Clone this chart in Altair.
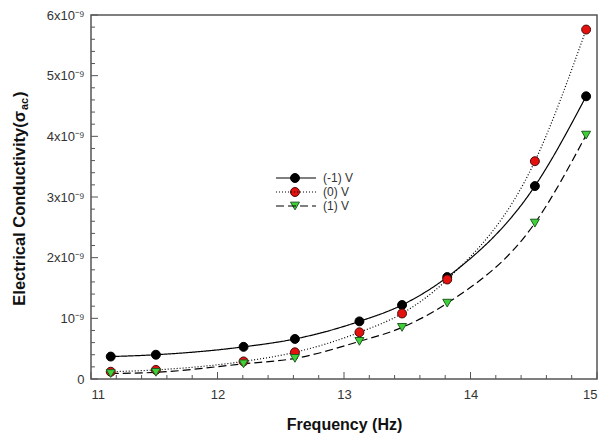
import altair as alt
import pandas as pd

# ---- data (values in units of 1e-9) ----
freq = [11.156, 11.513, 12.206, 12.612, 13.122, 13.459, 13.816, 14.509, 14.914]
s_m1 = [0.37, 0.40, 0.53, 0.66, 0.95, 1.22, 1.68, 3.18, 4.66]
s_0 = [0.12, 0.15, 0.29, 0.44, 0.77, 1.08, 1.64, 3.59, 5.76]
s_p1 = [0.09, 0.11, 0.25, 0.34, 0.62, 0.85, 1.25, 2.57, 4.02]
series_names = ["(-1) V", "(0) V", "(1) V"]
fill_colors = ["#000000", "#e3120f", "#3fd13a"]
stroke_colors = ["#000000", "#4a0a0a", "#1f5a1f"]
shapes = ["circle", "circle", "triangle-down"]
dashes = [[1, 0], [1, 2], [8, 4]]

x_major = [11, 12, 13, 14, 15]
x_minor = [11.2, 11.4, 11.6, 11.8, 12.2, 12.4, 12.6, 12.8, 13.2, 13.4, 13.6, 13.8,
           14.2, 14.4, 14.6, 14.8]
y_major = [0, 1, 2, 3, 4, 5, 6]
y_minor = [0.2, 0.4, 0.6, 0.8, 1.2, 1.4, 1.6, 1.8, 2.2, 2.4, 2.6, 2.8, 3.2, 3.4, 3.6, 3.8,
           4.2, 4.4, 4.6, 4.8, 5.2, 5.4, 5.6, 5.8]
x_title = "Frequency (Hz)"
y_title_main = ["Electrical Conductivity(σ"]
y_title_sub = ["ac"]
y_title_close = [")"]

W, H = 506, 364
FONT = "Liberation Sans"

rows = []
for name, vals in zip(series_names, [s_m1, s_0, s_p1]):
    for f, v in zip(freq, vals):
        rows.append({"f": f, "v": v, "series": name, "sline": name})
df = pd.DataFrame(rows)

xs = alt.Scale(domain=[11, 15], nice=False)
ys = alt.Scale(domain=[0, 6], nice=False)

base = alt.Chart(df)

lines = base.mark_line(color="black", strokeWidth=1.2, interpolate="monotone").encode(
    x=alt.X("f:Q", scale=xs,
            axis=alt.Axis(values=x_major, format="d", ticks=False, domain=False, grid=False,
                          labelFontSize=13, labelColor="#333", labelFont=FONT,
                          labelPadding=9, title=x_title, titleFont=FONT,
                          titleFontSize=16, titleFontWeight="bold", titleColor="#111",
                          titlePadding=15)),
    y=alt.Y("v:Q", scale=ys,
            axis=alt.Axis(values=y_major, ticks=False, domain=False, grid=False,
                          labelFontSize=13, labelColor="#333", labelFont=FONT,
                          labelPadding=7, title=None,
                          labelExpr="datum.value == 0 ? '0' : (datum.value == 1 ? '10⁻⁹' : datum.value + 'x10⁻⁹')")),
    strokeDash=alt.StrokeDash("sline:N", scale=alt.Scale(domain=series_names, range=dashes),
                              legend=alt.Legend(orient="none", legendX=184, legendY=156,
                                                title=None, symbolType="stroke",
                                                symbolSize=1600, symbolStrokeColor="black",
                                                symbolStrokeWidth=1.2, clipHeight=14,
                                                rowPadding=0, padding=0, offset=0,
                                                labelFontSize=12, labelFont=FONT,
                                                labelColor="#333", labelOffset=6)),
    detail="series:N",
)

points = base.mark_point(filled=True, size=80, strokeWidth=1, opacity=1).encode(
    x=alt.X("f:Q", scale=xs),
    y=alt.Y("v:Q", scale=ys),
    fill=alt.Fill("series:N", scale=alt.Scale(domain=series_names, range=fill_colors),
                  legend=alt.Legend(orient="none", legendX=199, legendY=156, title=None,
                                    symbolSize=80, clipHeight=14, rowPadding=0,
                                    padding=0, offset=0, labelExpr="''",
                                    symbolStrokeWidth=1)),
    stroke=alt.Stroke("series:N", scale=alt.Scale(domain=series_names, range=stroke_colors)),
    shape=alt.Shape("series:N", scale=alt.Scale(domain=series_names, range=shapes)),
)

xmaj = alt.Chart(pd.DataFrame({"t": x_major})).mark_rule(color="#555", strokeWidth=1).encode(
    x=alt.X("t:Q", scale=xs), y=alt.value(H), y2=alt.value(H - 7))
xmin = alt.Chart(pd.DataFrame({"t": x_minor})).mark_rule(color="#555", strokeWidth=1).encode(
    x=alt.X("t:Q", scale=xs), y=alt.value(H), y2=alt.value(H - 4))
ymaj = alt.Chart(pd.DataFrame({"t": y_major})).mark_rule(color="#555", strokeWidth=1).encode(
    y=alt.Y("t:Q", scale=ys), x=alt.value(0), x2=alt.value(7))
ymin = alt.Chart(pd.DataFrame({"t": y_minor})).mark_rule(color="#555", strokeWidth=1).encode(
    y=alt.Y("t:Q", scale=ys), x=alt.value(0), x2=alt.value(4))

t_main = alt.Chart(pd.DataFrame({"t": y_title_main})).mark_text(
    angle=270, align="right", baseline="middle", font=FONT, fontSize=16.5,
    fontWeight="bold", color="#111").encode(x=alt.value(-71), y=alt.value(96), text="t:N")
t_sub = alt.Chart(pd.DataFrame({"t": y_title_sub})).mark_text(
    angle=270, align="left", baseline="middle", font=FONT, fontSize=11,
    fontWeight="bold", color="#111").encode(x=alt.value(-66), y=alt.value(95), text="t:N")
t_close = alt.Chart(pd.DataFrame({"t": y_title_close})).mark_text(
    angle=270, align="left", baseline="middle", font=FONT, fontSize=16.5,
    fontWeight="bold", color="#111").encode(x=alt.value(-71), y=alt.value(82), text="t:N")

chart = alt.layer(xmin, xmaj, ymin, ymaj, lines, points, t_main, t_sub, t_close).resolve_scale(
    strokeDash="independent"
).properties(
    width=W, height=H,
    autosize=alt.AutoSizeParams(type="none"),
    padding={"left": 91, "top": 15, "right": 3, "bottom": 59},
).configure_view(stroke="#555", strokeWidth=1.5)

chart.save("out.html", embed_options={"renderer": "svg", "actions": False})
